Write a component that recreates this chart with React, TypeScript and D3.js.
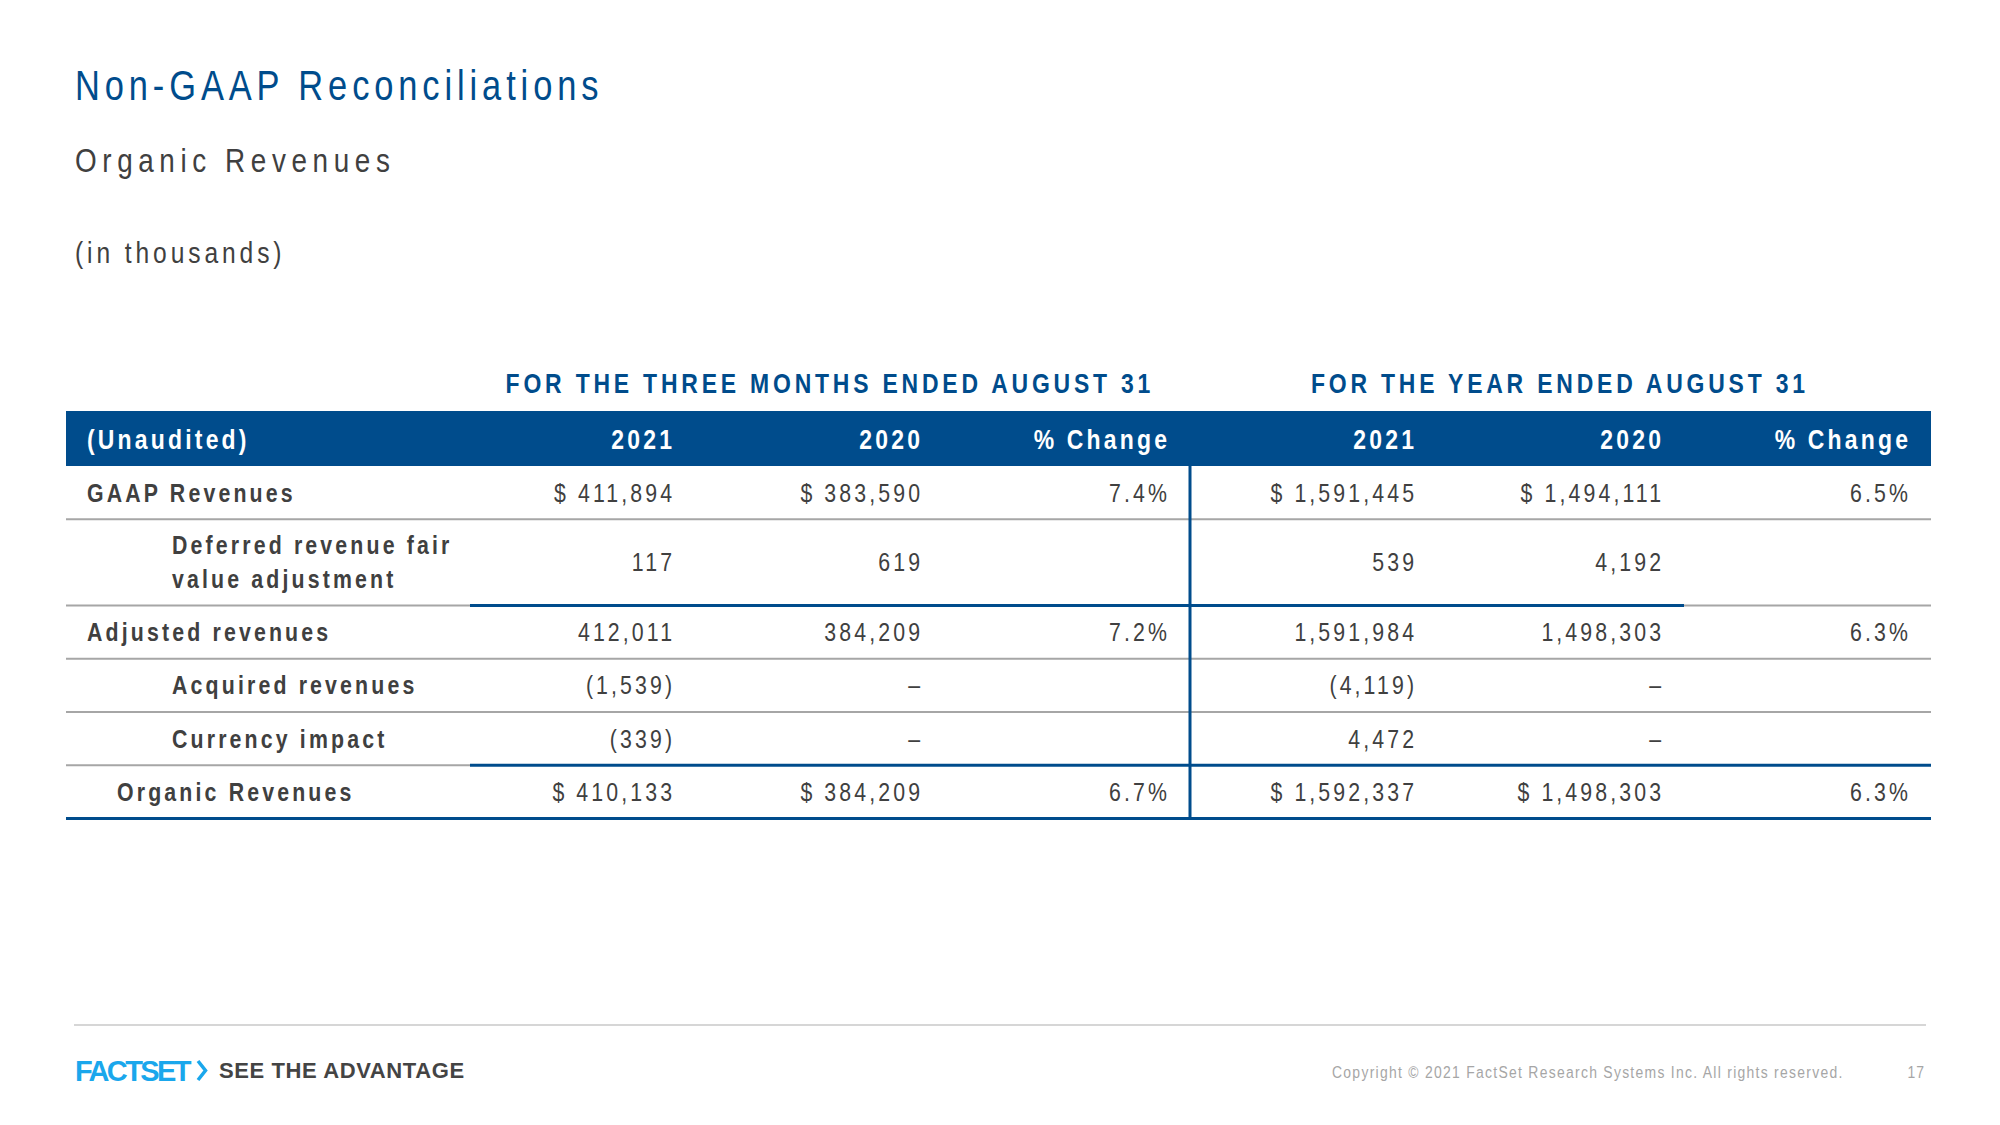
import React from 'react';
import * as d3 from 'd3';

// ---------- data ----------
const rowLabels: string[][] = [
  ['GAAP Revenues'],
  ['Deferred revenue fair', 'value adjustment'],
  ['Adjusted revenues'],
  ['Acquired revenues'],
  ['Currency impact'],
  ['Organic Revenues'],
];
const threeMonths2021: (number | null)[] = [411894, 117, 412011, -1539, -339, 410133];
const threeMonths2020: (number | null)[] = [383590, 619, 384209, null, null, 384209];
const threeMonthsChange: (number | null)[] = [7.4, null, 7.2, null, null, 6.7];
const year2021: (number | null)[] = [1591445, 539, 1591984, -4119, 4472, 1592337];
const year2020: (number | null)[] = [1494111, 4192, 1498303, null, null, 1498303];
const yearChange: (number | null)[] = [6.5, null, 6.3, null, null, 6.3];
const dollarRows: boolean[] = [true, false, false, false, false, true];
const columnHeaders: string[] = ['2021', '2020', '% Change', '2021', '2020', '% Change'];
const sectionTitles: string[] = ['FOR THE THREE MONTHS ENDED AUGUST 31', 'FOR THE YEAR ENDED AUGUST 31'];
const stubHeader = '(Unaudited)';
const title = 'Non-GAAP Reconciliations';
const subtitle = 'Organic Revenues';
const unitNote = '(in thousands)';
const copyright = 'Copyright © 2021 FactSet Research Systems Inc. All rights reserved.';
const pageNumber = '17';

// ---------- layout / style ----------
const FONT = "'Liberation Sans', Arial, sans-serif";
const SX = 0.82; // condensed look (Arial Narrow-like)
const BLUE = '#004C8C';
const TEXT = '#404040';
const GRAY_LINE = '#A6A6A6';
const colKeys = ['q21', 'q20', 'qc', 'y21', 'y20', 'yc'];
const colSeries = [threeMonths2021, threeMonths2020, threeMonthsChange, year2021, year2020, yearChange];
const colIsChange = [false, false, true, false, false, true];
const rowUnits = [1, 1.62, 1, 1, 1, 1];
const rowIndent = [87, 172, 87, 172, 172, 117];
const TABLE_L = 66, TABLE_R = 1931, SPLIT_X = 1190;

const x = d3.scaleOrdinal<string, number>().domain(colKeys).range([672, 920, 1167, 1414, 1661, 1908]);
const cum = [0, ...Array.from(d3.cumsum(rowUnits))];
const y = d3.scaleLinear().domain([0, d3.sum(rowUnits)]).range([466, 818.5]);

const fmt = d3.format(',');
const fmtPct = d3.format('.1f');

function cell(v: number | null, row: number, isChange: boolean): string {
  if (v === null) return isChange ? '' : '\u2013';
  if (isChange) return fmtPct(v) + '%';
  const body = v < 0 ? `(${fmt(-v)})` : fmt(v);
  return dollarRows[row] ? `$ ${body}` : body;
}

const separators: [number, number, string, number][][] = [
  [[TABLE_L, TABLE_R, GRAY_LINE, 2]],
  [[TABLE_L, 470, GRAY_LINE, 2], [470, 1684, BLUE, 3], [1684, TABLE_R, GRAY_LINE, 2]],
  [[TABLE_L, TABLE_R, GRAY_LINE, 2]],
  [[TABLE_L, TABLE_R, GRAY_LINE, 2]],
  [[TABLE_L, 470, GRAY_LINE, 2], [470, TABLE_R, BLUE, 3]],
  [[TABLE_L, TABLE_R, BLUE, 3]],
];

type TP = {
  x: number; y: number; size: number; ls: number; fill: string;
  anchor?: 'start' | 'middle' | 'end'; bold?: boolean; sx?: number; children: React.ReactNode;
};
function T({ x, y, size, ls, fill, anchor = 'start', bold = false, sx = SX, children }: TP) {
  const shift = anchor === 'end' ? ls : anchor === 'middle' ? ls / 2 : 0;
  return (
    <text
      transform={`translate(${x + shift},${y}) scale(${sx},1)`}
      fontSize={size}
      fontWeight={bold ? 'bold' : 'normal'}
      fill={fill}
      textAnchor={anchor}
      style={{ letterSpacing: `${ls / sx}px` }}
    >
      {children}
    </text>
  );
}

export default function App() {
  const VAL_LS = 3.1;
  const HDR_LS = 3.2;
  return (
    <svg width={2000} height={1125} style={{ position: 'absolute', left: 0, top: 0, background: '#fff' }} fontFamily={FONT}>
      <rect x={0} y={0} width={2000} height={1125} fill="#fff" />
      {/* titles */}
      <T x={75} y={100} size={42} ls={4.9} fill={BLUE}>{title}</T>
      <T x={75} y={172} size={34} ls={5.6} fill={TEXT}>{subtitle}</T>
      <T x={75} y={263} size={30} ls={3.9} fill={TEXT}>{unitNote}</T>

      {/* section titles */}
      {sectionTitles.map((s, i) => (
        <T key={'st' + i} x={[828, 1558][i]} y={393} size={28} ls={3.8} bold fill={BLUE} anchor="middle">{s}</T>
      ))}

      {/* header bar */}
      <rect x={TABLE_L} y={411} width={TABLE_R - TABLE_L} height={55} fill={BLUE} />
      <T x={87} y={449} size={28} ls={HDR_LS} bold fill="#fff">{stubHeader}</T>
      {columnHeaders.map((h, i) => (
        <T key={'h' + i} x={x(colKeys[i]) as number} y={449} size={28} ls={HDR_LS} bold fill="#fff" anchor="end">{h}</T>
      ))}

      {/* rows */}
      {rowLabels.map((lines, r) => {
        const top = y(cum[r]);
        const bot = y(cum[r + 1]);
        const mid = (top + bot) / 2;
        return (
          <g key={'r' + r}>
            {lines.map((ln, k) => (
              <T key={k} x={rowIndent[r]} y={mid + 9 + (k - (lines.length - 1) / 2) * 34} size={26} ls={3.15} bold fill={TEXT}>{ln}</T>
            ))}
            {colSeries.map((series, c) => (
              <T key={'c' + c} x={x(colKeys[c]) as number} y={mid + 9} size={26} ls={VAL_LS} fill={TEXT} anchor="end">{cell(series[r], r, colIsChange[c])}</T>
            ))}
            {separators[r].map(([x0, x1, col, w], k) => (
              <line key={'s' + k} x1={x0} x2={x1} y1={bot} y2={bot} stroke={col} strokeWidth={w} />
            ))}
          </g>
        );
      })}

      {/* vertical split line */}
      <line x1={SPLIT_X} x2={SPLIT_X} y1={466} y2={y(cum[cum.length - 1])} stroke={BLUE} strokeWidth={3} />

      {/* footer */}
      <line x1={74} x2={1926} y1={1025} y2={1025} stroke="#C8C8C8" strokeWidth={1.5} />
      <T x={75} y={1081} size={29} ls={-2.6} bold fill="#1AA7EC" sx={1}>FACTSET</T>
      <polyline points="198,1061 205.5,1070.5 198,1080" fill="none" stroke="#1AA7EC" strokeWidth={3.5} />
      <T x={219} y={1078} size={22} ls={0.6} bold fill="#444" sx={1}>SEE THE ADVANTAGE</T>
      <T x={1332} y={1078} size={17} ls={1.28} fill="#A6A6A6">{copyright}</T>
      <T x={1924} y={1078} size={17} ls={1.0} fill="#A6A6A6" anchor="end">{pageNumber}</T>
    </svg>
  );
}
